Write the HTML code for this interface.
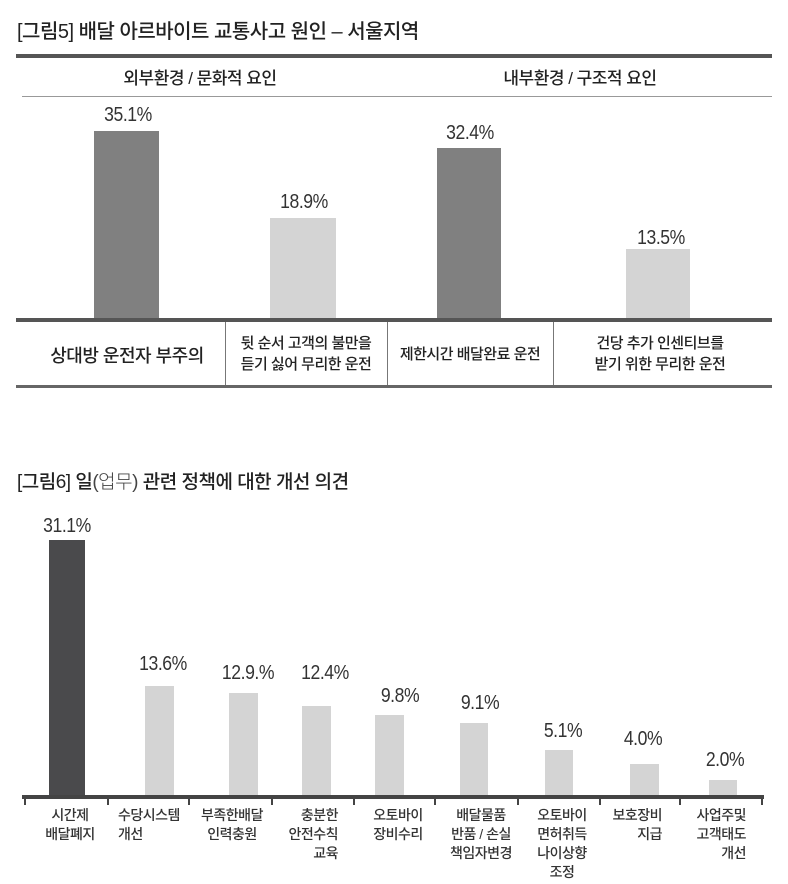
<!DOCTYPE html>
<html><head><meta charset="utf-8"><style>
body{margin:0;background:#fff;width:788px;height:884px;position:relative;overflow:hidden;font-family:"Liberation Sans","Noto Sans CJK KR",sans-serif;color:#222}
div{position:absolute}
.t{white-space:nowrap}
.c{transform:translateX(-50%);text-align:center}
.v{font-size:20px;letter-spacing:-0.5px;color:#333;transform:translateX(-50%) scaleX(0.88)}
.lb{font-size:14px;line-height:19px;letter-spacing:-0.5px;color:#333;white-space:nowrap;font-weight:500}
</style></head><body>
<div class="t" style="left:17px;top:15px;font-size:20px;letter-spacing:-0.5px;font-weight:500">[그림5] 배달 아르바이트 교통사고 원인 – 서울지역</div>
<div style="left:16px;top:54px;width:756px;height:4px;background:#555"></div>
<div class="t c" style="left:200px;top:64px;font-size:17px;letter-spacing:-0.5px;font-weight:500">외부환경 / 문화적 요인</div>
<div class="t c" style="left:580px;top:64px;font-size:17px;letter-spacing:-0.5px;font-weight:500">내부환경 / 구조적 요인</div>
<div style="left:22px;top:96px;width:750px;height:1px;background:#999"></div>
<div style="left:94px;top:131px;width:65px;height:187px;background:#808080"></div>
<div style="left:270px;top:218px;width:66px;height:100px;background:#d4d4d4"></div>
<div style="left:437px;top:148px;width:64px;height:170px;background:#808080"></div>
<div style="left:626px;top:249px;width:64px;height:69px;background:#d4d4d4"></div>
<div class="t v" style="left:128px;top:104px">35.1%</div>
<div class="t v" style="left:304px;top:191px">18.9%</div>
<div class="t v" style="left:470px;top:122px">32.4%</div>
<div class="t v" style="left:661px;top:227px">13.5%</div>
<div style="left:16px;top:318px;width:756px;height:4px;background:#555"></div>
<div style="left:225px;top:322px;width:1px;height:64px;background:#777"></div>
<div style="left:387px;top:322px;width:1px;height:64px;background:#777"></div>
<div style="left:553px;top:322px;width:1px;height:64px;background:#777"></div>
<div style="left:16px;top:385px;width:756px;height:3px;background:#666"></div>
<div class="t c" style="left:127px;top:342px;font-size:18px;letter-spacing:-0.5px;font-weight:500">상대방 운전자 부주의</div>
<div class="t c" style="left:306px;top:333px;font-size:15px;line-height:21px;letter-spacing:-0.5px;font-weight:500">뒷 순서 고객의 불만을<br>듣기 싫어 무리한 운전</div>
<div class="t c" style="left:470px;top:343px;font-size:15px;letter-spacing:-0.5px;font-weight:500">제한시간 배달완료 운전</div>
<div class="t c" style="left:660px;top:333px;font-size:15px;line-height:21px;letter-spacing:-0.5px;font-weight:500">건당 추가 인센티브를<br>받기 위한 무리한 운전</div>

<div class="t" style="left:17px;top:467px;font-size:19px;letter-spacing:-0.5px;font-weight:500">[그림6] 일<span style="font-weight:300;color:#444">(업무)</span> 관련 정책에 대한 개선 의견</div>

<div style="left:49px;top:540px;width:36px;height:255px;background:#4a4a4c"></div>
<div style="left:145px;top:686px;width:29px;height:109px;background:#d4d4d4"></div>
<div style="left:229px;top:693px;width:29px;height:102px;background:#d4d4d4"></div>
<div style="left:302px;top:706px;width:29px;height:89px;background:#d4d4d4"></div>
<div style="left:375px;top:715px;width:29px;height:80px;background:#d4d4d4"></div>
<div style="left:460px;top:723px;width:28px;height:72px;background:#d4d4d4"></div>
<div style="left:545px;top:750px;width:28px;height:45px;background:#d4d4d4"></div>
<div style="left:630px;top:764px;width:29px;height:31px;background:#d4d4d4"></div>
<div style="left:709px;top:780px;width:28px;height:15px;background:#d4d4d4"></div>
<div class="t v" style="left:67px;top:515px">31.1%</div>
<div class="t v" style="left:163px;top:653px">13.6%</div>
<div class="t v" style="left:248px;top:662px">12.9.%</div>
<div class="t v" style="left:325px;top:662px">12.4%</div>
<div class="t v" style="left:400px;top:685px">9.8%</div>
<div class="t v" style="left:480px;top:692px">9.1%</div>
<div class="t v" style="left:563px;top:720px">5.1%</div>
<div class="t v" style="left:643px;top:728px">4.0%</div>
<div class="t v" style="left:725px;top:749px">2.0%</div>
<div style="left:22px;top:795px;width:742px;height:4px;background:#444"></div>
<div style="left:24px;top:798px;width:2px;height:7px;background:#444"></div>
<div style="left:107px;top:798px;width:2px;height:7px;background:#444"></div>
<div style="left:188px;top:798px;width:2px;height:7px;background:#444"></div>
<div style="left:271px;top:798px;width:2px;height:7px;background:#444"></div>
<div style="left:353px;top:798px;width:2px;height:7px;background:#444"></div>
<div style="left:434px;top:798px;width:2px;height:7px;background:#444"></div>
<div style="left:517px;top:798px;width:2px;height:7px;background:#444"></div>
<div style="left:599px;top:798px;width:2px;height:7px;background:#444"></div>
<div style="left:679px;top:798px;width:2px;height:7px;background:#444"></div>
<div style="left:761px;top:798px;width:2px;height:7px;background:#444"></div>
<div class="lb c" style="left:70px;top:806px">시간제<br>배달폐지</div>
<div class="lb" style="left:118px;top:806px">수당시스템<br>개선</div>
<div class="lb c" style="left:232px;top:806px">부족한배달<br>인력충원</div>
<div class="lb" style="left:278px;top:806px;text-align:right;width:60px">충분한<br>안전수칙<br>교육</div>
<div class="lb c" style="left:398px;top:806px">오토바이<br>장비수리</div>
<div class="lb c" style="left:481px;top:806px">배달물품<br>반품 / 손실<br>책임자변경</div>
<div class="lb c" style="left:562px;top:806px">오토바이<br>면허취득<br>나이상향<br>조정</div>
<div class="lb" style="left:606px;top:806px;text-align:right;width:56px">보호장비<br>지급</div>
<div class="lb" style="left:686px;top:806px;text-align:right;width:60px">사업주및<br>고객태도<br>개선</div>
</body></html>
